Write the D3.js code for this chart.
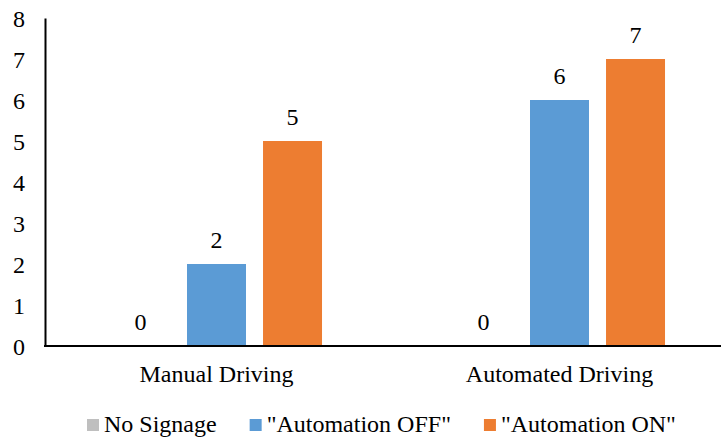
<!DOCTYPE html>
<html>
<head>
<meta charset="utf-8">
<script src="https://cdn.jsdelivr.net/npm/d3@7"></script>
<style>
  html, body { margin: 0; padding: 0; background: #fff; }
  svg { display: block; font-family: "Liberation Serif", "Times New Roman", serif; }
</style>
</head>
<body>
<svg id="chart" width="721" height="439"></svg>
<script>
// Chart data
const categories = ["Manual Driving", "Automated Driving"];
const seriesNames = ["No Signage", "\"Automation OFF\"", "\"Automation ON\""];
const noSignage = [0, 0];
const automationOff = [2, 6];
const automationOn = [5, 7];
const yTicks = [0, 1, 2, 3, 4, 5, 6, 7, 8];
const colors = ["#BFBFBF", "#5B9BD5", "#ED7D31"];

const seriesValues = [noSignage, automationOff, automationOn];
const rows = categories.map((c, i) => ({
  category: c,
  values: seriesNames.map((s, j) => ({ series: s, value: seriesValues[j][i], color: colors[j] }))
}));

const svg = d3.select("#chart");
const fontSize = 24;
const plotLeft = 45, plotRight = 731, plotTop = 18, plotBottom = 346;

const x0 = d3.scaleBand().domain(categories).range([plotLeft, plotRight]).paddingInner(0).paddingOuter(0);
const x1 = d3.scaleBand().domain(seriesNames).range([0, x0.bandwidth()])
  .paddingInner(0.224).paddingOuter(0.868);
const y = d3.scaleLinear().domain([0, 8]).range([plotBottom, plotTop]);

// Bars
const groups = svg.append("g").selectAll("g").data(rows).join("g")
  .attr("transform", d => `translate(${x0(d.category)},0)`);

groups.selectAll("rect").data(d => d.values).join("rect")
  .attr("x", d => x1(d.series))
  .attr("width", x1.bandwidth())
  .attr("y", d => y(d.value))
  .attr("height", d => y(0) - y(d.value))
  .attr("fill", d => d.color);

// Value labels
groups.selectAll("text.val").data(d => d.values).join("text")
  .attr("class", "val")
  .attr("x", d => x1(d.series) + x1.bandwidth() / 2)
  .attr("y", d => y(d.value) - 16.5)
  .attr("text-anchor", "middle")
  .attr("font-size", fontSize)
  .attr("fill", "#000")
  .text(d => d.value);

// Y axis
const yAxis = svg.append("g").attr("transform", `translate(${plotLeft},0)`)
  .call(d3.axisLeft(y).tickValues(yTicks).tickSize(0).tickSizeOuter(0).tickPadding(20))
  .attr("font-family", null).attr("font-size", fontSize);
yAxis.select(".domain").attr("stroke", "#000").attr("stroke-width", 2);
yAxis.selectAll("text")
  .attr("fill", "#000")
  .attr("dy", null)
  .attr("y", 8.5);

// X axis
const xAxis = svg.append("g").attr("transform", `translate(0,${plotBottom})`)
  .call(d3.axisBottom(x0).tickSize(0).tickSizeOuter(0))
  .attr("font-family", null).attr("font-size", fontSize);
xAxis.select(".domain").attr("stroke", "#000").attr("stroke-width", 2.2)
  .attr("d", `M${plotLeft - 1},0H${plotRight}`);
xAxis.selectAll("text")
  .attr("fill", "#000")
  .attr("dy", null)
  .attr("y", 36);

// Legend
const legend = svg.append("g").attr("transform", "translate(0,432)");
let lx = 87;
seriesNames.forEach((s, i) => {
  const item = legend.append("g");
  item.append("rect").attr("x", lx).attr("y", -13).attr("width", 12).attr("height", 12).attr("fill", colors[i]);
  const t = item.append("text").attr("x", lx + 17).attr("y", 0)
    .attr("font-size", fontSize).attr("fill", "#000").text(s);
  lx += 17 + t.node().getComputedTextLength() + 33;
});
</script>
</body>
</html>
